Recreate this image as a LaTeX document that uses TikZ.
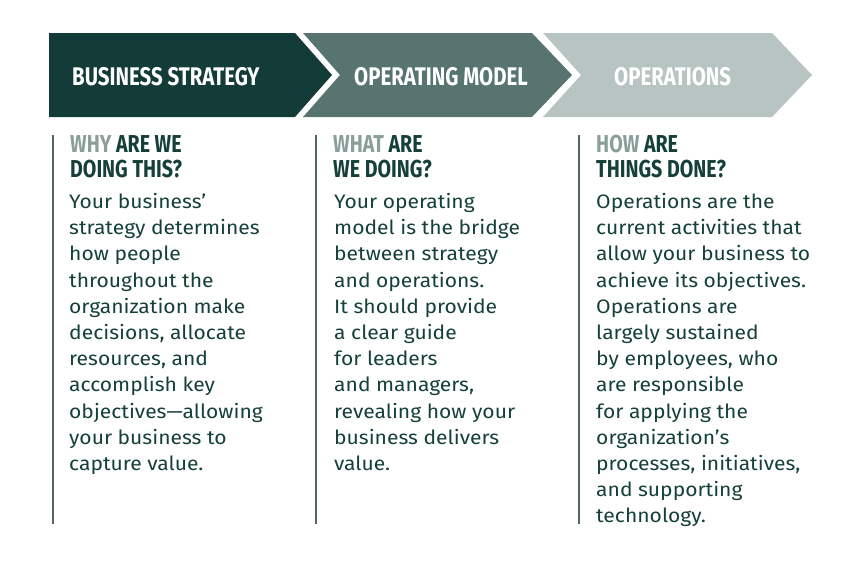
\documentclass[tikz,border=0pt]{standalone}
\usepackage{fontspec}
\setmainfont[FakeStretch=1.08]{Fira Sans}
\newfontfamily\headfont[FakeStretch=0.8]{Fira Sans}
\definecolor{dark}{HTML}{133B37}
\definecolor{mid}{HTML}{587470}
\definecolor{light}{HTML}{B8C4C2}
\definecolor{txt}{HTML}{15403A}
\definecolor{soft}{HTML}{8A9E9A}
\definecolor{rule}{HTML}{526864}
\tikzset{
  banner/.style={anchor=base west,inner sep=0pt,text=white,font=\headfont\bfseries\fontsize{25.5}{25}\selectfont},
  colhead/.style={anchor=north west,inner sep=0pt,align=left,text=txt,font=\headfont\bfseries\fontsize{24.5}{25}\selectfont},
  colbody/.style={anchor=north west,inner sep=0pt,align=left,text=txt,font=\fontsize{19.5}{26.2}\selectfont},
  divider/.style={draw=rule,line width=1.5pt}
}
\begin{document}
\begin{tikzpicture}[x=1pt,y=-1pt]
\useasboundingbox (0,0) rectangle (860,560);
% banner arrows
\fill[dark] (49,33) -- (295,33) -- (332,75) -- (295,117) -- (49,117) -- cycle;
\fill[mid] (303,33) -- (532,33) -- (572,75) -- (532,117) -- (303,117) -- (340,75) -- cycle;
\fill[light] (543,33) -- (772,33) -- (812,75) -- (772,117) -- (543,117) -- (581,75) -- cycle;
\node[banner] (h1) at (72,85) {BUSINESS STRATEGY};
\node[banner] (h2) at (354,85) {OPERATING MODEL};
\node[banner] (h3) at (614,85) {OPERATIONS};
% dividers
\coordinate (d1a) at (53,135); \coordinate (d1b) at (53,524);
\coordinate (d2a) at (316,135); \coordinate (d2b) at (316,524);
\coordinate (d3a) at (579,135); \coordinate (d3b) at (579,524);
\draw[divider] (d1a) -- (d1b);
\draw[divider] (d2a) -- (d2b);
\draw[divider] (d3a) -- (d3b);
% column headings
\node[colhead] (q1) at (70,135) {\textcolor{soft}{WHY} ARE WE\\DOING THIS?};
\node[colhead] (q2) at (333,135) {\textcolor{soft}{WHAT} ARE\\WE DOING?};
\node[colhead] (q3) at (596,135) {\textcolor{soft}{HOW} ARE\\THINGS DONE?};
% bodies
\node[colbody] (b1) at (69,193) {Your business'\\strategy determines\\how people\\throughout the\\organization make\\decisions, allocate\\resources, and\\accomplish key\\objectives—allowing\\your business to\\capture value.};
\node[colbody] (b2) at (334,193) {Your operating\\model is the bridge\\between strategy\\and operations.\\It should provide\\a clear guide\\for leaders\\and managers,\\revealing how your\\business delivers\\value.};
\node[colbody] (b3) at (596,193) {Operations are the\\current activities that\\allow your business to\\achieve its objectives.\\Operations are\\largely sustained\\by employees, who\\are responsible\\for applying the\\organization’s\\processes, initiatives,\\and supporting\\technology.};
\end{tikzpicture}
\end{document}
